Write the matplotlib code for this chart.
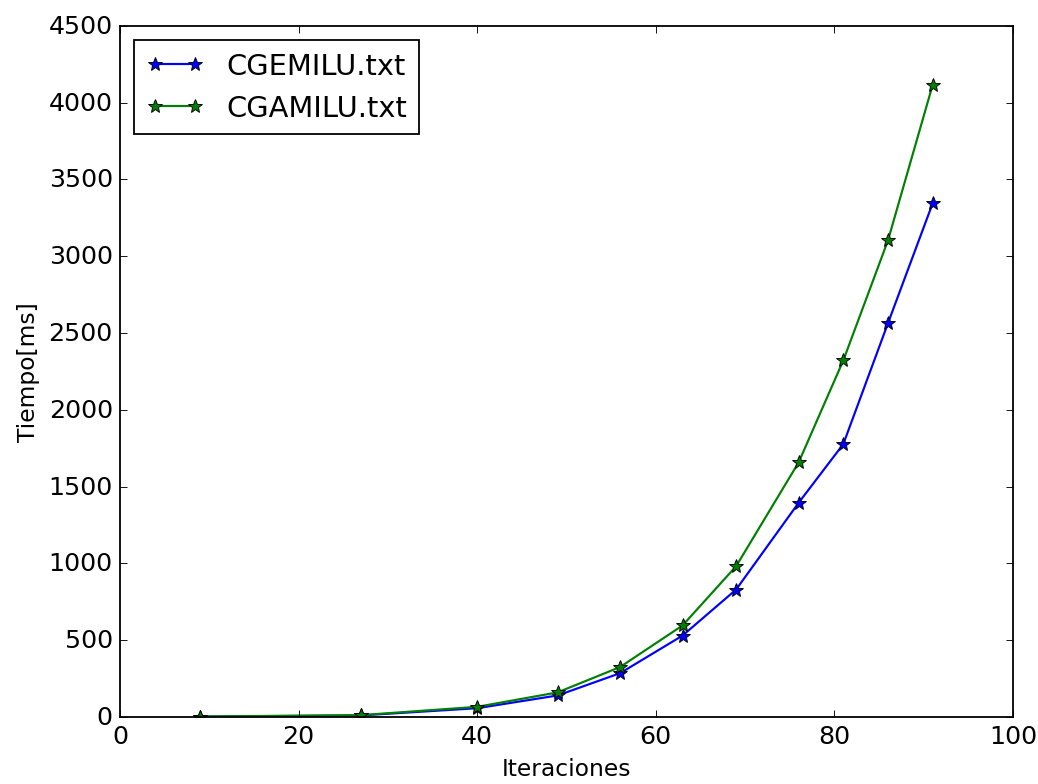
import matplotlib
matplotlib.use("Agg")
import matplotlib.pyplot as plt

# iteraciones y tiempos medidos (ms)
iteraciones = [9, 27, 40, 49, 56, 63, 69, 76, 81, 86, 91]
tiempo_cgemilu = [2, 10, 57, 140, 285, 530, 830, 1395, 1777, 2564, 3344]
tiempo_cgamilu = [3, 12, 66, 160, 325, 596, 982, 1658, 2322, 3103, 4115]

plt.style.use('classic')
plt.rcParams['xtick.labelsize'] = 14
plt.rcParams['ytick.labelsize'] = 14
plt.rcParams['axes.labelsize'] = 13
plt.rcParams['legend.fontsize'] = 16

fig = plt.figure(figsize=(8, 6.05), dpi=129.75, facecolor='white')
ax = fig.add_axes([0.1156, 0.0854, 0.8603, 0.8803])

ax.plot(iteraciones, tiempo_cgemilu, 'b*-', mec='k', mew=0.5, ms=8, lw=1.2, label='CGEMILU.txt')
ax.plot(iteraciones, tiempo_cgamilu, 'g*-', mec='k', mew=0.5, ms=8, lw=1.2, label='CGAMILU.txt')

ax.set_xlim(0, 100)
ax.set_ylim(0, 4500)
ax.set_xlabel('Iteraciones')
ax.set_ylabel('Tiempo[ms]')
ax.legend(loc='upper left')

fig.savefig('out.png', dpi=129.75, facecolor='white')
